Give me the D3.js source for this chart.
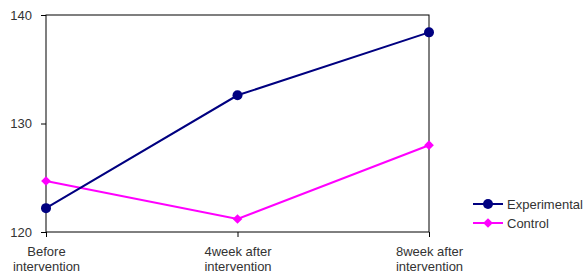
<!DOCTYPE html>
<html>
<head>
<meta charset="utf-8">
<script src="https://cdn.jsdelivr.net/npm/d3@7"></script>
<style>
  body { margin: 0; background: #fff; }
  text { font-family: "Liberation Sans", Arial, sans-serif; fill: #333; }
</style>
</head>
<body>
<div id="chart"></div>
<script>
// data
const categories = ["Before\nintervention", "4week after\nintervention", "8week after\nintervention"];
const experimental = [122.2, 132.6, 138.4];
const control = [124.7, 121.2, 128.0];
const yTicks = [120, 130, 140];
const seriesNames = ["Experimental", "Control"];

const width = 588, height = 273;
const margin = { top: 15, right: 159, bottom: 41, left: 46 };
const innerW = width - margin.left - margin.right;
const innerH = height - margin.top - margin.bottom;

const svg = d3.select("#chart").append("svg")
    .attr("width", width)
    .attr("height", height);

const g = svg.append("g")
    .attr("transform", `translate(${margin.left},${margin.top})`);

const x = d3.scalePoint()
    .domain(categories)
    .range([0, innerW]);

const y = d3.scaleLinear()
    .domain([120, 140])
    .range([innerH, 0]);

// plot frame
g.append("rect")
    .attr("width", innerW)
    .attr("height", innerH)
    .attr("fill", "none")
    .attr("stroke", "#000")
    .attr("stroke-width", 1);

// y axis
const yAxis = g.append("g")
    .call(d3.axisLeft(y).tickValues(yTicks).tickSize(5).tickFormat(d3.format("d")));
yAxis.select(".domain").remove();
yAxis.selectAll("line").attr("stroke", "#000");
yAxis.selectAll("text")
    .attr("x", -14)
    .style("font-size", "13px")
    .style("font-family", "'Liberation Sans', Arial, sans-serif")
    .attr("fill", "#333");

// x axis
const xAxis = g.append("g")
    .attr("transform", `translate(0,${innerH})`)
    .call(d3.axisBottom(x).tickSize(5).tickFormat(""));
xAxis.select(".domain").remove();
xAxis.selectAll("line").attr("stroke", "#000");
xAxis.selectAll(".tick").each(function(d) {
    const t = d3.select(this).append("text")
        .attr("text-anchor", "middle")
        .attr("fill", "#333")
        .style("font-size", "13px");
    d.split("\n").forEach((part, i) => {
        t.append("tspan")
            .attr("x", 0)
            .attr("y", 24 + i * 15)
            .text(part);
    });
});

const line = d3.line()
    .x((d, i) => x(categories[i]))
    .y(d => y(d));

const expColor = "#000080";
const ctrlColor = "#ff00ff";

// control first so experimental sits on top
g.append("path")
    .datum(control)
    .attr("d", line)
    .attr("fill", "none")
    .attr("stroke", ctrlColor)
    .attr("stroke-width", 2);

g.selectAll(".ctrl-pt")
    .data(control)
    .enter()
    .append("path")
    .attr("class", "ctrl-pt")
    .attr("transform", (d, i) => `translate(${x(categories[i])},${y(d)})`)
    .attr("d", d3.symbol(d3.symbolDiamond2, 60)())
    .attr("fill", ctrlColor);

g.append("path")
    .datum(experimental)
    .attr("d", line)
    .attr("fill", "none")
    .attr("stroke", expColor)
    .attr("stroke-width", 2);

g.selectAll(".exp-pt")
    .data(experimental)
    .enter()
    .append("circle")
    .attr("class", "exp-pt")
    .attr("cx", (d, i) => x(categories[i]))
    .attr("cy", d => y(d))
    .attr("r", 5)
    .attr("fill", expColor);

// legend
const legend = svg.append("g").attr("transform", "translate(473,204)");
const colors = [expColor, ctrlColor];
seriesNames.forEach((name, i) => {
    const row = legend.append("g").attr("transform", `translate(0,${i * 19})`);
    row.append("line")
        .attr("x1", 0).attr("x2", 30)
        .attr("stroke", colors[i])
        .attr("stroke-width", 2);
    if (i === 0) {
        row.append("circle").attr("cx", 15).attr("r", 5).attr("fill", colors[i]);
    } else {
        row.append("path")
            .attr("transform", "translate(15,0)")
            .attr("d", d3.symbol(d3.symbolDiamond2, 60)())
            .attr("fill", colors[i]);
    }
    row.append("text")
        .attr("x", 34)
        .attr("dy", "0.35em")
        .style("font-size", "13px")
        .text(name);
});
</script>
</body>
</html>
